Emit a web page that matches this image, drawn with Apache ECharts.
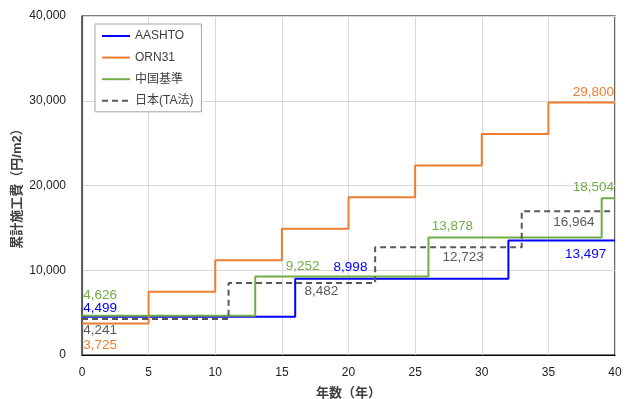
<!DOCTYPE html>
<html>
<head>
<meta charset="utf-8">
<script src="https://cdn.jsdelivr.net/npm/echarts@6/dist/echarts.min.js"></script>
<style>
  html, body { margin: 0; padding: 0; background: #fff; }
  #chart { width: 629px; height: 399px; }
</style>
</head>
<body>
<div id="chart"></div>
<script>
// Cumulative construction cost (yen/m2) by elapsed years, step schedules
const seriesNames = ['AASHTO', 'ORN31', '中国基準', '日本(TA法)'];

const aashtoYears = [0, 16, 32, 40];
const aashtoCost  = [4499, 8998, 13497, 13497];

const ornYears = [0, 5, 10, 15, 20, 25, 30, 35, 40];
const ornCost  = [3725, 7450, 11175, 14900, 18625, 22350, 26075, 29800, 29800];

const chinaYears = [0, 13, 26, 39, 40];
const chinaCost  = [4626, 9252, 13878, 18504, 18504];

const japanYears = [0, 11, 22, 33, 40];
const japanCost  = [4241, 8482, 12723, 16964, 16964];

const xTicks = [0, 5, 10, 15, 20, 25, 30, 35, 40];
const yTicks = [0, 10000, 20000, 30000, 40000];

const colors = ['#0000ff', '#ed7d31', '#70ad47', '#595959'];
const labelColors = ['#0000ff', '#ed7d31', '#70ad47', '#595959'];

// Label placement: [step index, label x (years), vertical offset px, align]
const labelLayout = [
  [[0, 0.1, -8.5, 'left'], [1, 20.15, -11.5, 'center'], [2, 37.8, 13.5, 'center']],
  [[0, 0.1, 22.3, 'left'], [7, 38.37, -10, 'center']],
  [[0, 0.1, -21, 'left'], [1, 16.55, -10.6, 'center'], [2, 27.8, -11.4, 'center'], [3, 38.37, -11, 'center']],
  [[0, 0.1, 11.7, 'left'], [1, 17.96, 8, 'center'], [2, 28.6, 10, 'center'], [3, 36.92, 11.5, 'center']]
];

const FONT = "'Liberation Sans', 'Noto Sans CJK JP', sans-serif";
const fmt = v => v.toLocaleString('en-US');

function pairs(xs, ys) { return xs.map((x, i) => [x, ys[i]]); }

const allYears = [aashtoYears, ornYears, chinaYears, japanYears];
const allCost = [aashtoCost, ornCost, chinaCost, japanCost];

const series = seriesNames.map((name, s) => ({
  name: name,
  type: 'line',
  step: 'end',
  symbol: 'none',
  data: pairs(allYears[s], allCost[s]),
  lineStyle: {
    color: colors[s],
    width: 2,
    type: s === 3 ? [6, 4] : 'solid'
  },
  itemStyle: { color: colors[s] },
  z: s === 3 ? 5 : 3,
  markPoint: {
    symbol: 'circle',
    symbolSize: 0,
    silent: true,
    data: labelLayout[s].map(([idx, xc, dy, align]) => ({
      coord: [xc, allCost[s][idx]],
      value: allCost[s][idx],
      label: {
        show: true,
        position: 'inside',
        offset: [0, dy],
        align: align,
        formatter: () => fmt(allCost[s][idx]),
        color: labelColors[s],
        fontSize: 13.5,
        fontFamily: FONT
      }
    }))
  }
}));

const chart = echarts.init(document.getElementById('chart'), null, { renderer: 'canvas' });
chart.setOption({
  animation: false,
  backgroundColor: '#fff',
  textStyle: { fontFamily: FONT },
  grid: {
    left: 82, right: 14, top: 16, bottom: 44,
    outerBoundsMode: 'none',
    containLabel: false,
    show: true,
    borderColor: '#000',
    borderWidth: 1.2,
    backgroundColor: 'transparent'
  },
  legend: {
    orient: 'vertical',
    left: 95,
    top: 24,
    padding: [6, 8, 5, 6],
    itemWidth: 28,
    itemHeight: 14,
    itemGap: 9.6,
    borderColor: '#a6a6a6',
    borderWidth: 1,
    backgroundColor: '#fff',
    itemStyle: { opacity: 0 },
    textStyle: { fontSize: 12, color: '#404040', fontFamily: FONT },
    data: seriesNames
  },
  xAxis: {
    type: 'value',
    min: xTicks[0],
    max: xTicks[xTicks.length - 1],
    interval: 5,
    name: '年数（年）',
    nameLocation: 'middle',
    nameGap: 32,
    nameMoveOverlap: false,
    nameTextStyle: { fontSize: 13, fontWeight: 'bold', color: '#404040', fontFamily: FONT },
    axisLine: { show: true, lineStyle: { color: '#000', width: 1.2 } },
    axisTick: { show: false },
    axisLabel: { fontSize: 12, color: '#222', margin: 12, fontFamily: FONT },
    splitLine: { show: true, lineStyle: { color: '#d9d9d9', width: 1 } }
  },
  yAxis: {
    type: 'value',
    min: yTicks[0],
    max: yTicks[yTicks.length - 1],
    interval: 10000,
    name: '累計施工費（円/m2）',
    nameLocation: 'middle',
    nameGap: 58,
    nameRotate: 90,
    nameMoveOverlap: false,
    nameTextStyle: { fontSize: 13, fontWeight: 'bold', color: '#404040', fontFamily: FONT },
    axisLine: { show: true, lineStyle: { color: '#595959', width: 1.2 } },
    axisTick: { show: false },
    axisLabel: { fontSize: 12, color: '#222', margin: 16, formatter: v => fmt(v), fontFamily: FONT },
    splitLine: { show: true, lineStyle: { color: '#d9d9d9', width: 1 } }
  },
  series: series
});
</script>
</body>
</html>
